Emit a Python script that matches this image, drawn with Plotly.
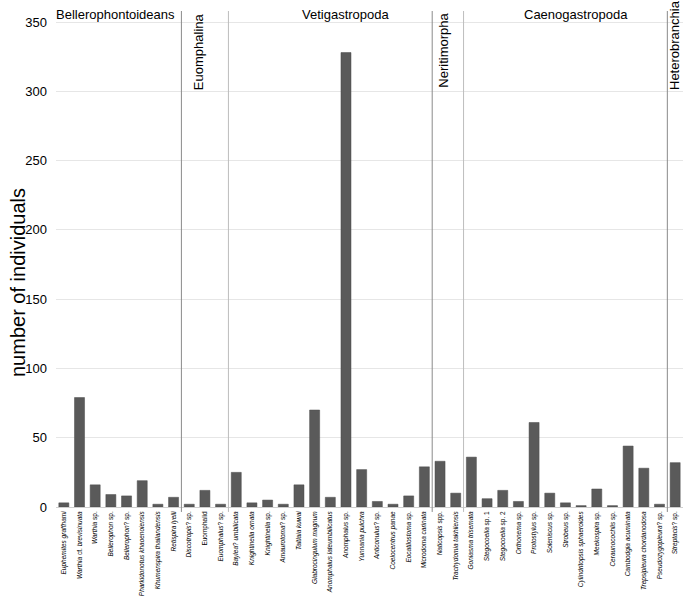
import plotly.graph_objects as go

species = [
    ("<i>Euphemites graffhami</i>", 3),
    ("<i>Warthia</i> cf. <i>brevisinuata</i>", 79),
    ("<i>Warthia</i> sp.", 16),
    ("<i>Bellerophon</i> sp.", 9),
    ("<i>Bellerophon</i>? sp.", 8),
    ("<i>Pharkidonotus khaoenoiensis</i>", 19),
    ("<i>Khumenspira thailandensis</i>", 2),
    ("<i>Retispira lyelli</i>", 7),
    ("<i>Discotropis</i>? sp.", 2),
    ("Euomphalid", 12),
    ("<i>Euomphalus</i>? sp.", 2),
    ("<i>Baylea</i>? <i>umbilicata</i>", 25),
    ("<i>Knightinella ornata</i>", 3),
    ("<i>Knightinella</i> sp.", 5),
    ("<i>Amaurotoma</i>? sp.", 2),
    ("<i>Taitlaia kuwai</i>", 16),
    ("<i>Glabrocingulum magnum</i>", 70),
    ("<i>Anomphalus lateumbilicatus</i>", 7),
    ("<i>Anomphalus</i> sp.", 328),
    ("<i>Yunnania pulchra</i>", 27),
    ("<i>Anticonulus</i>? sp.", 4),
    ("<i>Coelocentrus panae</i>", 2),
    ("<i>Eocatilostoma</i> sp.", 8),
    ("<i>Microdoma carinata</i>", 29),
    ("<i>Naticopsis</i> spp.", 33),
    ("<i>Trachydomia takhliensis</i>", 10),
    ("<i>Goniasma trisemata</i>", 36),
    ("<i>Stegocoelia</i> sp. 1", 6),
    ("<i>Stegocoelia</i> sp. 2", 12),
    ("<i>Orthonema</i> sp.", 4),
    ("<i>Protostylus</i> sp.", 61),
    ("<i>Soleniscus</i> sp.", 10),
    ("<i>Strobeus</i> sp.", 3),
    ("<i>Cylindritopsis sphaeroides</i>", 1),
    ("<i>Meekospira</i> sp.", 13),
    ("<i>Ceraunocochlis</i> sp.", 1),
    ("<i>Cambodgia acuminata</i>", 44),
    ("<i>Trepsipleura chordanodosa</i>", 28),
    ("<i>Pseudozygopleura</i>? sp.", 2),
    ("<i>Streptacis</i>? sp.", 32),
]
labels = [s[0] for s in species]
counts = [s[1] for s in species]
xs = list(range(len(labels)))

# group separators (between category indices) and their line colours
separators = [7.5, 10.5, 23.5, 25.5, 38.5]
sep_colors = ["#8a8a8a", "#bdbdbd", "#8a8a8a", "#bdbdbd", "#8a8a8a"]

# horizontal group labels: (text, x position in category units)
h_groups = [("Bellerophontoideans", 3.3), ("Vetigastropoda", 18.0), ("Caenogastropoda", 32.7)]
# vertical group labels: (text, x position, y paper anchor, yanchor)
v_groups = [("Euomphalina", 8.6, 1.0, "top"), ("Neritimorpha", 24.2, 1.0, "top"),
            ("Heterobranchia", 39.0, 0.837, "bottom")]

fig = go.Figure(go.Bar(x=xs, y=counts, marker=dict(color="#5a5a5a", line=dict(color="#4a4a4a", width=0.5))))

fig.update_layout(
    width=685, height=596,
    margin=dict(l=56, r=2, t=11, b=89),
    plot_bgcolor="white", paper_bgcolor="white",
    bargap=0.36,
    showlegend=False,
    font=dict(family="Liberation Sans, Arial, sans-serif", color="black"),
)
fig.update_xaxes(
    tickmode="array", tickvals=xs, ticktext=labels, tickangle=-90,
    tickfont=dict(size=6.5), range=[-0.5, len(labels) - 0.5],
    showgrid=False, zeroline=False, showline=False, ticks="", ticklabelstandoff=2,
    automargin=False,
)
fig.update_yaxes(
    range=[0, 358], tickvals=[0, 50, 100, 150, 200, 250, 300, 350],
    tickfont=dict(size=13), showgrid=True, gridcolor="#e6e6e6", gridwidth=1,
    zeroline=True, zerolinecolor="#cfcfcf", zerolinewidth=1,
    showline=False, ticks="", ticklabelstandoff=8, automargin=False,
)

# y-axis title as an annotation so it can sit exactly where the reference has it
fig.add_annotation(text="number of individuals", xref="paper", yref="paper", x=0, y=0.5,
                   xanchor="center", yanchor="middle", xshift=-38, yshift=-24, textangle=-90,
                   showarrow=False, font=dict(size=20))

for xv, c in zip(separators, sep_colors):
    fig.add_shape(type="line", xref="x", yref="paper", x0=xv, x1=xv, y0=-0.01, y1=1.0,
                  line=dict(color=c, width=1))

for txt, xv in h_groups:
    fig.add_annotation(text=txt, x=xv, xref="x", y=1.0, yref="paper", yanchor="middle",
                       showarrow=False, font=dict(size=13), yshift=-3)
for txt, xv, yv, ya in v_groups:
    fig.add_annotation(text=txt, x=xv, xref="x", y=yv, yref="paper", yanchor=ya,
                       textangle=-90, showarrow=False, font=dict(size=13))

fig.write_html("out.html", post_script="document.body.style.margin='0';",
               config={"displayModeBar": False})
